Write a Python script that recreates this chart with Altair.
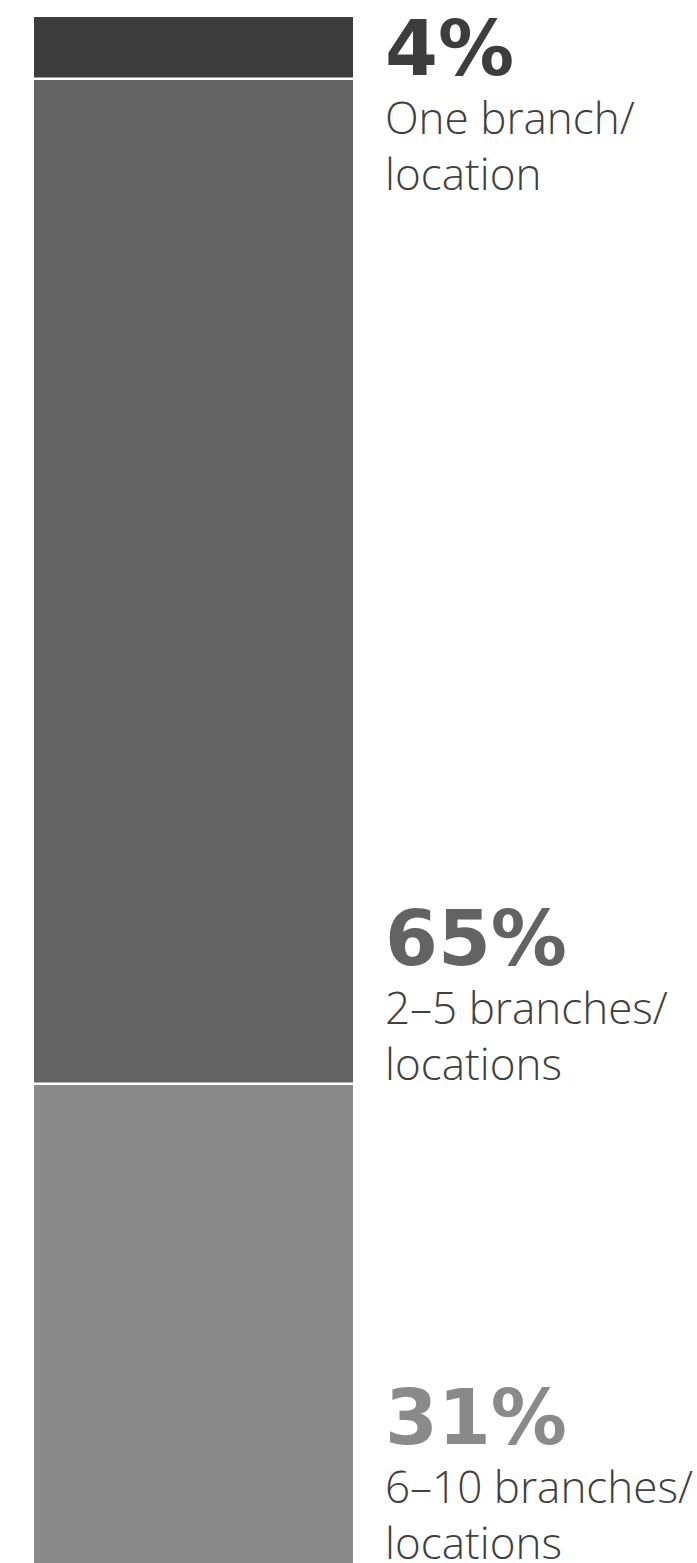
import altair as alt
import numpy as np
import pandas as pd

# Share of respondents by number of branches / locations
categories = ["One branch/location", "2–5 branches/locations", "6–10 branches/locations"]
shares = [4, 65, 31]
line_one = ["One branch/", "2–5 branches/", "6–10 branches/"]
line_two = ["location", "locations", "locations"]
colors = ["#3d3d3d", "#636363", "#8a8a8a"]

df = pd.DataFrame({
    "category": categories,
    "share": shares,
    "line_one": line_one,
    "line_two": line_two,
})
df["end"] = df["share"].cumsum()
df["start"] = df["end"] - df["share"]
df["pct"] = df["share"].astype(str) + "%"
# a thin segment cannot hold its label block, so that label hangs from the segment top
df["anchor"] = np.where(df["share"] < 10, "top", "bottom")
df["label_y"] = np.where(df["anchor"] == "top", df["start"], df["end"])

yscale = alt.Scale(domain=[0, 100], reverse=True, nice=False)
color = alt.Color("category:N", scale=alt.Scale(domain=categories, range=colors), legend=None)

base = alt.Chart(df)

bars = base.mark_rect().encode(
    x=alt.value(34),
    x2=alt.value(353),
    y=alt.Y("start:Q", scale=yscale, axis=None),
    y2="end:Q",
    color=color,
)

separators = base.transform_filter("datum.end < 100").mark_rule(
    color="white", strokeWidth=2.5
).encode(
    x=alt.value(34),
    x2=alt.value(353),
    y=alt.Y("end:Q", scale=yscale, axis=None),
)

pct_style = dict(align="left", baseline="alphabetic", font="DejaVu Sans",
                 fontWeight="bold", fontSize=76)
desc_style = dict(align="left", baseline="alphabetic", font="Open Sans",
                  fontWeight=300, fontSize=44, color="#404040")


def label_layers(anchor, offsets):
    sub = base.transform_filter(f"datum.anchor == '{anchor}'")
    y = alt.Y("label_y:Q", scale=yscale, axis=None)
    pct = sub.mark_text(dy=offsets[0], **pct_style).encode(
        x=alt.value(385), y=y, text="pct:N", color=color
    )
    first = sub.mark_text(dy=offsets[1], **desc_style).encode(
        x=alt.value(385), y=y, text="line_one:N"
    )
    second = sub.mark_text(dy=offsets[2], **desc_style).encode(
        x=alt.value(385), y=y, text="line_two:N"
    )
    return [pct, first, second]


layers = [bars, separators] + label_layers("top", [58, 117, 173]) + label_layers("bottom", [-119, -60, -4])

chart = alt.layer(*layers).properties(
    width=697,
    height=1546,
    padding={"top": 17, "left": 0, "right": 0, "bottom": 0},
    autosize="none",
    background="white",
).configure_view(stroke=None)

chart.save("out.html", embed_options={"renderer": "svg", "actions": False})
